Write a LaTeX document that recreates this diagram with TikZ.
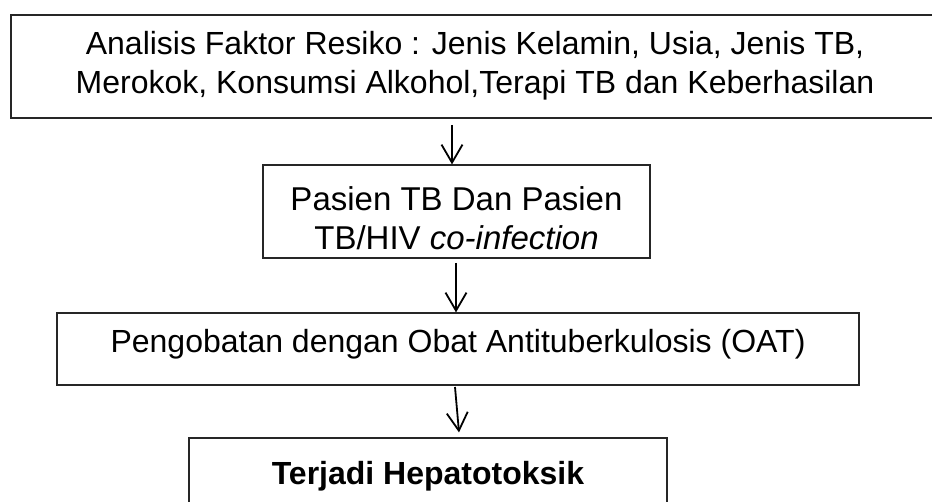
\documentclass[tikz,border=0pt]{standalone}
\usepackage{fontspec}
\setmainfont{Liberation Sans}
\usetikzlibrary{arrows.meta}
\begin{document}
\begin{tikzpicture}[x=1pt,y=-1pt,
  box/.style={draw=black!85, line width=1.2pt, rectangle, inner sep=0pt},
  txt/.style={align=center, font=\fontsize{32}{39}\selectfont, inner sep=0pt},
  conn/.style={line width=1.8pt, -{Straight Barb[length=18pt,width=21pt,line width=1.8pt]}}]
\useasboundingbox (0,0) rectangle (932,502);
% boxes
\node[box, minimum width=928pt, minimum height=103pt] (b1) at (475,66.5) {};
\node[box, minimum width=387pt, minimum height=93pt] (b2) at (456.5,211.5) {};
\node[box, minimum width=802pt, minimum height=72pt] (b3) at (458,349) {};
\node[box, minimum width=478pt, minimum height=92pt] (b4) at (428,484) {};
% texts
\node[txt] (t1) at (475,66.2) {Analisis Faktor Resiko : Jenis Kelamin, Usia, Jenis TB,\\Merokok, Konsumsi Alkohol,Terapi TB dan Keberhasilan};
\node[txt, font=\fontsize{33}{39}\selectfont] (t2) at (456.5,218) {Pasien TB Dan Pasien\\TB/HIV \textit{co-infection}};
\node[txt] (t3) at (458,344) {Pengobatan dengan Obat Antituberkulosis (OAT)};
\node[txt, font=\fontsize{32}{39}\selectfont\bfseries] (t4) at (428,476) {Terjadi Hepatotoksik};
% connectors
\coordinate (s1) at (452,125);
\coordinate (s2) at (456,263);
\coordinate (s3) at (455,387);
\draw[conn] (s1) -- (s1 |- b2.north);
\draw[conn] (s2) -- (s2 |- b3.north);
\draw[conn] (s3) -- ([shift={(31,-5)}]b4.north);
\end{tikzpicture}
\end{document}
